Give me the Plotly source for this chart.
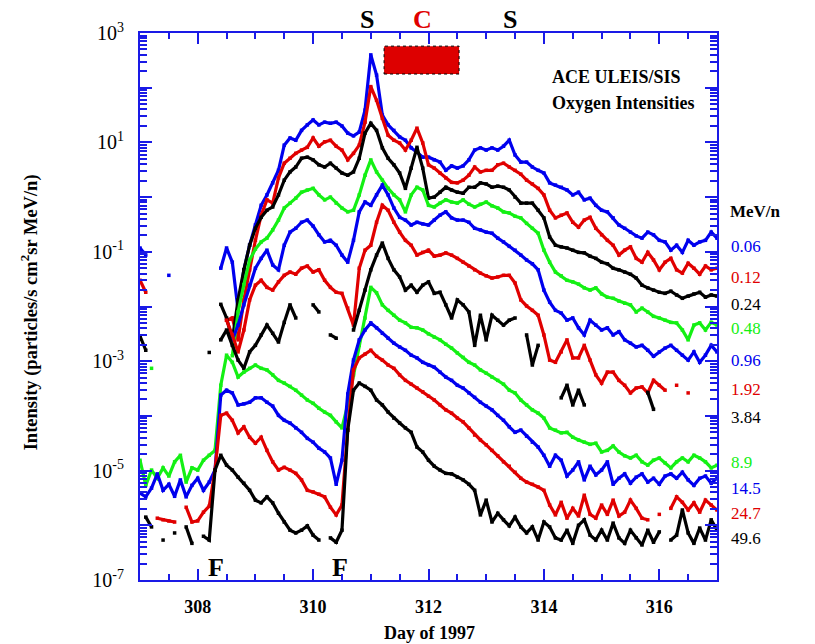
import numpy as np
import plotly.graph_objects as go

N = None
# time grid: day of 1997, every 0.1 day
days = np.round(307.0 + 0.1 * np.arange(101), 1)

# log10 oxygen intensities (particles/s cm2 sr MeV/n)
o_0p06 = [-0.93, -1.06, N, N, N, -1.43, N, N, N, N,
          N, N, N, N, -1.30, -0.93, -1.19, -2.07, -1.33, -0.88,
          -0.51, -0.15, 0.04, 0.26, 0.49, 0.95, 1.08, 1.04, 1.22, 1.32,
          1.41, 1.32, 1.37, 1.35, 1.37, 1.30, 1.17, 1.12, 1.19, 1.59,
          2.60, 2.23, 1.50, 1.32, 1.22, 1.10, 1.04, 0.90, 0.82, 0.73,
          0.73, 0.68, 0.64, 0.49, 0.57, 0.53, 0.57, 0.68, 0.86, 0.90,
          0.86, 0.90, 0.86, 0.93, 1.04, 0.77, 0.64, 0.64, 0.55, 0.49,
          0.44, 0.26, 0.22, 0.18, 0.13, 0.04, 0.09, -0.05, -0.02, -0.15,
          -0.24, -0.27, -0.38, -0.51, -0.57, -0.64, -0.71, -0.75, -0.64, -0.69,
          -0.79, -0.82, -0.97, -0.88, -1.01, -0.79, -0.88, -0.82, -0.79, -0.64,
          -0.75]
o_0p12 = [-1.52, -1.74, N, N, N, N, N, N, N, N,
          N, N, N, N, N, -2.25, -2.21, -2.61, -1.88, -1.33,
          -0.79, -0.33, -0.05, -0.11, 0.35, 0.62, 0.71, 0.80, 0.86, 0.91,
          1.08, 0.93, 1.01, 1.04, 0.93, 0.86, 0.68, 0.80, 0.95, 1.37,
          2.02, 1.77, 1.44, 1.13, 1.04, 0.99, 0.86, 1.04, 1.26, 0.99,
          0.59, 0.53, 0.44, 0.35, 0.27, 0.26, 0.31, 0.40, 0.55, 0.46,
          0.49, 0.49, 0.59, 0.62, 0.55, 0.49, 0.42, 0.31, 0.24, 0.16,
          0.04, -0.24, -0.38, -0.33, -0.29, -0.46, -0.55, -0.42, -0.37, -0.57,
          -0.69, -0.79, -0.88, -1.06, -0.97, -0.91, -1.12, -1.19, -1.01, -1.15,
          -1.33, -1.19, -1.12, -1.33, -1.39, -1.21, -1.30, -1.41, -1.26, -1.33,
          -1.30]
o_0p24 = [-2.54, -2.80, N, N, N, N, N, N, N, N,
          N, N, -2.84, N, -1.96, -2.21, -2.61, -1.88, -1.33, -0.88,
          -0.57, -0.37, -0.24, -0.18, 0.04, 0.31, 0.46, 0.55, 0.71, 0.73,
          0.68, 0.59, 0.55, 0.62, 0.53, 0.44, 0.40, 0.46, 0.71, 1.17,
          1.35, 1.22, 0.90, 0.71, 0.59, 0.44, 0.16, 0.53, 0.91, 0.53,
          -0.02, 0.00, 0.09, 0.18, 0.13, 0.09, 0.07, 0.18, 0.18, 0.26,
          0.24, 0.18, 0.20, 0.18, 0.13, 0.00, -0.11, -0.11, -0.11, -0.24,
          -0.38, -0.73, -0.88, -0.91, -0.93, -0.97, -1.01, -1.02, -1.08, -1.12,
          -1.19, -1.22, -1.30, -1.33, -1.37, -1.41, -1.48, -1.61, -1.66, -1.70,
          -1.74, -1.76, -1.72, -1.79, -1.85, -1.81, -1.77, -1.74, -1.83, -1.79,
          -1.81]
o_0p48 = [N, N, -3.13, N, N, N, N, N, N, N,
          N, N, N, N, N, N, -2.90, -2.10, -1.60, -1.15,
          -0.95, -0.82, -0.75, -0.60, -0.42, -0.20, -0.11, -0.02, 0.09, 0.13,
          0.16, 0.04, -0.05, 0.00, -0.11, -0.20, -0.27, -0.24, 0.04, 0.40,
          0.68, 0.46, 0.31, 0.16, 0.04, -0.05, -0.27, 0.04, 0.18, 0.13,
          -0.15, -0.18, -0.11, -0.05, -0.09, -0.11, -0.05, -0.13, -0.18, -0.13,
          -0.09, -0.16, -0.20, -0.27, -0.29, -0.35, -0.38, -0.48, -0.57, -0.66,
          -0.97, -1.19, -1.37, -1.44, -1.52, -1.55, -1.59, -1.66, -1.70, -1.66,
          -1.77, -1.83, -1.85, -1.90, -1.94, -1.97, -2.10, -2.03, -2.10, -2.18,
          -2.21, -2.25, -2.29, -2.30, -2.43, -2.61, -2.34, -2.30, -2.43, -2.29,
          -2.34]
o_0p96 = [N, N, N, N, N, N, N, N, N, N,
          N, N, N, N, N, N, -2.61, -2.34, -1.97, -1.61,
          -1.30, -1.12, -0.97, -1.24, -1.33, -0.88, -0.64, -0.57, -0.46, -0.42,
          -0.53, -0.69, -0.82, -0.79, -0.88, -1.06, -1.19, -0.79, -0.27, -0.09,
          -0.15, 0.04, 0.22, 0.04, -0.20, -0.37, -0.42, -0.51, -0.46, -0.49,
          -0.51, -0.42, -0.33, -0.27, -0.38, -0.42, -0.42, -0.46, -0.57, -0.60,
          -0.64, -0.66, -0.75, -0.82, -0.90, -0.97, -1.06, -1.15, -1.22, -1.33,
          -1.70, -1.92, -2.07, -2.12, -2.25, -2.21, -2.39, -2.52, -2.25, -2.34,
          -2.43, -2.39, -2.52, -2.46, -2.61, -2.67, -2.74, -2.71, -2.80, -2.91,
          -2.83, -2.76, -2.71, -2.80, -2.89, -2.98, -2.83, -3.02, -2.89, -2.71,
          -2.83]
o_1p92 = [N, N, N, N, N, N, N, N, N, N,
          N, N, N, N, N, -2.25, -2.52, -2.83, -2.43, -1.88,
          -1.61, -1.52, -1.65, -1.70, -1.55, -1.43, -1.37, -1.41, -1.30, -1.26,
          -1.37, -1.33, -1.52, -1.65, -1.74, -1.76, -2.03, -2.34, -1.30, -0.97,
          -0.88, -0.46, -0.15, -0.24, -0.46, -0.64, -0.79, -0.88, -1.06, -1.01,
          -0.97, -1.08, -1.06, -1.02, -1.06, -1.12, -1.19, -1.26, -1.33, -1.39,
          -1.44, -1.48, -1.46, -1.43, -1.43, -1.57, -1.88, -1.99, -2.07, -2.16,
          -2.52, -2.98, -3.02, -2.83, -2.61, -2.94, -2.94, -2.71, -2.98, -3.25,
          -3.40, -3.20, -3.20, -3.35, -3.44, -3.58, -3.49, -3.47, -3.58, -3.35,
          -3.44, -3.53, N, -3.44, N, -3.58, N, N, N, N,
          N]
o_3p84 = [N, N, N, N, N, N, N, N, N, N,
          N, N, N, N, -2.61, -2.43, -2.71, -2.98, -3.13, -2.83,
          -2.71, -2.52, -2.34, -2.49, -2.65, -2.29, -1.97, -2.21, N, N,
          -1.97, -2.10, N, -2.52, -2.58, N, N, -2.43, -2.07, -1.70,
          -1.33, -1.06, -0.84, -1.12, -1.33, -1.46, -1.70, -1.61, -1.74, -1.61,
          -1.55, -1.76, -1.74, -1.97, -2.21, -1.88, -1.97, -2.10, -2.71, -2.16,
          -2.61, -2.16, -2.25, -2.34, -2.25, -2.21, N, -2.52, -3.07, -2.71,
          N, N, N, -3.67, -3.44, -3.80, -3.53, -3.80, N, N,
          N, N, N, N, N, N, N, N, -3.57, -3.88,
          N, N, N, N, N, N, N, N, N, N,
          N]
o_8p9 = [-4.81, -5.27, -4.99, -5.14, -4.95, -5.10, -4.84, -4.72, -5.21, -4.95,
         -4.99, -4.81, -4.72, -4.63, -3.44, -2.89, -3.02, -3.29, -3.20, -3.13,
         -3.07, -3.13, -3.16, -3.25, -3.35, -3.40, -3.46, -3.53, -3.62, -3.71,
         -3.77, -3.86, -3.93, -3.99, -4.11, -4.22, -3.80, -3.25, -2.71, -2.21,
         -1.65, -1.75, -1.97, -2.07, -2.16, -2.25, -2.30, -2.38, -2.39, -2.43,
         -2.50, -2.56, -2.61, -2.69, -2.76, -2.85, -2.93, -3.02, -3.07, -3.16,
         -3.22, -3.29, -3.35, -3.42, -3.53, -3.58, -3.71, -3.80, -3.89, -3.95,
         -4.04, -4.22, -4.26, -4.31, -4.30, -4.39, -4.44, -4.48, -4.52, -4.50,
         -4.66, -4.63, -4.55, -4.66, -4.73, -4.77, -4.72, -4.84, -4.90, -4.81,
         -4.77, -4.86, -4.95, -4.84, -4.77, -4.84, -4.72, -4.77, -4.84, -4.95,
         -4.90]
o_14p5 = [-5.41, -5.48, -5.32, -5.06, -5.36, -5.25, -5.47, -5.17, -5.48, -5.27,
          -5.14, -5.36, -5.21, -4.99, -3.62, -3.53, -3.58, -3.80, -3.78, -3.75,
          -3.67, -3.67, -3.75, -3.82, -3.99, -4.08, -4.13, -4.22, -4.30, -4.41,
          -4.48, -4.59, -4.66, -4.77, -5.25, -4.81, -3.60, -2.98, -2.61, -2.43,
          -2.30, -2.39, -2.49, -2.58, -2.67, -2.74, -2.80, -2.89, -2.94, -3.02,
          -3.07, -3.11, -3.20, -3.29, -3.35, -3.44, -3.49, -3.58, -3.66, -3.75,
          -3.82, -3.89, -3.99, -4.08, -4.20, -4.30, -4.26, -4.37, -4.48, -4.57,
          -4.72, -4.92, -4.72, -4.81, -5.10, -4.99, -4.84, -5.17, -4.92, -5.08,
          -4.99, -4.84, -5.25, -5.14, -5.06, -5.23, -5.12, -5.06, -5.21, -5.14,
          -5.25, -5.10, -5.06, -5.14, -5.03, -5.17, -5.27, -5.14, -5.10, -5.23,
          -5.14]
o_24p7 = [N, N, N, -5.87, -5.90, -5.92, -5.94, N, -5.67, -5.94,
          -5.92, -5.76, -5.65, -4.99, -3.99, -3.95, -4.08, -4.31, -4.20, -4.39,
          -4.50, -4.39, -4.63, -4.84, -4.99, -4.94, -4.99, -5.05, -5.17, -5.36,
          -5.39, -5.43, -5.48, -5.67, -5.81, -5.63, -4.26, -3.16, -2.94, -2.87,
          -2.80, -2.91, -2.98, -3.07, -3.13, -3.25, -3.35, -3.42, -3.49, -3.56,
          -3.64, -3.71, -3.80, -3.89, -3.95, -4.04, -4.11, -4.22, -4.35, -4.44,
          -4.53, -4.63, -4.73, -4.84, -4.92, -5.03, -5.14, -5.21, -5.25, -5.30,
          -5.36, -5.63, -5.81, -5.58, -5.87, -5.69, -5.83, -5.45, -5.80, -5.87,
          -5.63, -5.80, -5.54, -5.83, -5.76, -5.54, -5.69, -5.87, -5.90, N,
          -5.80, N, -5.69, -5.48, -5.58, -5.72, -5.59, -5.76, -5.54, -5.63,
          -5.72]
o_49p6 = [N, -5.85, -6.03, N, -6.27, N, -6.14, N, -6.03, -6.33,
          N, -6.20, -6.27, -4.99, -4.72, -4.90, -4.99, -5.12, -5.23, -5.36,
          -5.54, -5.59, -5.48, -5.59, -5.78, -5.94, -6.09, -6.14, -6.09, -6.01,
          -6.18, -6.27, N, -6.23, -6.31, -6.09, -4.26, -3.53, -3.40, -3.46,
          -3.53, -3.71, -3.80, -3.93, -4.04, -4.13, -4.22, -4.30, -4.57, -4.66,
          -4.81, -4.92, -4.99, -5.05, -5.06, -5.12, -5.17, -5.25, -5.36, -5.81,
          -5.54, -5.94, -5.78, -5.90, -6.01, -5.85, -6.03, -6.14, -6.03, -6.27,
          -5.94, -6.03, -6.23, -6.27, -6.09, -6.33, -6.00, -5.90, -6.18, -6.27,
          -6.09, -6.27, -5.96, -6.23, -6.33, -6.09, -6.23, -6.36, -6.09, -6.31,
          -6.12, N, -6.27, -6.18, -5.72, -6.14, -6.33, -6.05, -6.27, -5.90,
          -6.09]

channels = ["0.06", "0.12", "0.24", "0.48", "0.96", "1.92",
            "3.84", "8.9", "14.5", "24.7", "49.6"]
series = [o_0p06, o_0p12, o_0p24, o_0p48, o_0p96, o_1p92,
          o_3p84, o_8p9, o_14p5, o_24p7, o_49p6]

BLUE, RED, BLACK, GREEN = "#0000ee", "#e00000", "#000000", "#14f014"
colors = [BLUE, RED, BLACK, GREEN, BLUE, RED, BLACK, GREEN, BLUE, RED, BLACK]
AX = "#1a1ae6"
SERIF = "Liberation Serif, Times New Roman, serif"

fig = go.Figure()
for name, vals, col in zip(channels, series, colors):
    y = [None if v is None else 10 ** v for v in vals]
    fig.add_trace(go.Scatter(
        x=days, y=y, name=name + " MeV/n", mode="lines+markers",
        line=dict(color=col, width=3.2, shape="linear"),
        marker=dict(color=col, size=3.5, symbol="square"),
        connectgaps=False, showlegend=False))

# axes
x_major = [308, 310, 312, 314, 316]
x_minor = sorted(set([307.5 + 0.5 * k for k in range(19)]) - set(x_major))
fig.update_xaxes(
    range=[307, 317], tickmode="array", tickvals=x_major,
    ticktext=["<b>%d</b>" % v for v in x_major],
    tickfont=dict(family=SERIF, size=18, color="black"),
    ticks="inside", ticklen=11, tickwidth=2, tickcolor=AX,
    showline=True, linecolor=AX, linewidth=2, mirror="ticks",
    showgrid=False, zeroline=False, ticklabelstandoff=9,
    minor=dict(tickvals=x_minor, ticks="inside", ticklen=6,
               tickwidth=2, tickcolor=AX, showgrid=False))

# labelled decades (odd exponents) as major ticks; even decades as long ticks on an overlay axis
lab_exps = [-7, -5, -3, -1, 1, 3]
y_major = [10.0 ** e for e in lab_exps]
y_text = ["10<sup>%d</sup>" % e for e in lab_exps]
y_minor = [k * 10.0 ** e for e in range(-7, 3) for k in range(2, 10)]
fig.update_yaxes(
    type="log", range=[-7, 3], tickmode="array", tickvals=y_major, ticktext=y_text,
    tickfont=dict(family=SERIF, size=20, color="black"),
    ticks="inside", ticklen=12, tickwidth=2, tickcolor=AX,
    showline=True, linecolor=AX, linewidth=2, mirror="ticks",
    showgrid=False, zeroline=False, ticklabelstandoff=10,
    minor=dict(tickvals=y_minor, ticks="inside", ticklen=7,
               tickwidth=1.5, tickcolor=AX, showgrid=False))
fig.update_layout(yaxis2=dict(
    type="log", range=[-7, 3], overlaying="y", side="left", matches=None,
    tickmode="array", tickvals=[10.0 ** e for e in [-6, -4, -2, 0, 2]],
    showticklabels=False, ticks="inside", ticklen=12, tickwidth=2, tickcolor=AX,
    showline=True, linecolor=AX, linewidth=2, mirror="ticks",
    showgrid=False, zeroline=False))
# invisible anchor trace so the overlay axis is drawn
fig.add_trace(go.Scatter(x=[307, 317], y=[1e-7, 1e3], yaxis="y2", mode="markers",
                         marker=dict(opacity=0), hoverinfo="skip", showlegend=False))

ann = []
# axis titles
ann.append(dict(text="<b>Intensity (particles/s cm<sup>2</sup>sr MeV/n)</b>",
                xref="paper", yref="paper", x=-0.19, y=0.49, textangle=-90,
                showarrow=False, font=dict(family=SERIF, size=18.5, color="black"),
                xanchor="center", yanchor="middle"))
ann.append(dict(text="<b>Day of 1997</b>", xref="paper", yref="paper",
                x=0.502, y=-0.097, showarrow=False,
                font=dict(family=SERIF, size=18, color="black"),
                xanchor="center", yanchor="middle"))
# event markers
for txt, xd, col in [("S", 310.93, "black"), ("C", 311.90, RED), ("S", 313.41, "black")]:
    ann.append(dict(text="<b>%s</b>" % txt, xref="x", yref="paper", x=xd, y=1.024,
                    showarrow=False, font=dict(family=SERIF, size=26, color=col),
                    xanchor="center", yanchor="middle"))
for xd in [308.32, 310.47]:
    ann.append(dict(text="<b>F</b>", xref="x", yref="paper", x=xd, y=0.022,
                    showarrow=False, font=dict(family=SERIF, size=26, color="black"),
                    xanchor="center", yanchor="middle"))
# title block
ann.append(dict(text="<b>ACE ULEIS/SIS</b>", xref="paper", yref="paper",
                x=(550 - 140) / 577, y=(580 - 77) / 547, showarrow=False,
                font=dict(family=SERIF, size=18, color="black"),
                xanchor="left", yanchor="middle"))
ann.append(dict(text="<b>Oxygen Intensities</b>", xref="paper", yref="paper",
                x=(550 - 140) / 577, y=(580 - 103) / 547, showarrow=False,
                font=dict(family=SERIF, size=18, color="black"),
                xanchor="left", yanchor="middle"))
# energy labels
ann.append(dict(text="<b>MeV/n</b>", xref="paper", yref="paper",
                x=(728 - 140) / 577, y=(580 - 211) / 547, showarrow=False,
                font=dict(family=SERIF, size=17, color="black"),
                xanchor="left", yanchor="middle"))
label_py = [246, 277, 304, 329, 360, 390, 418, 462, 488, 513, 538]
for name, col, py in zip(channels, colors, label_py):
    ann.append(dict(text=name, xref="paper", yref="paper",
                    x=(729 - 140) / 577, y=(580 - py) / 547, showarrow=False,
                    font=dict(family=SERIF, size=17, color=col),
                    xanchor="left", yanchor="middle"))

fig.update_layout(
    width=815, height=644,
    margin=dict(l=140, r=98, t=33, b=64),
    paper_bgcolor="white", plot_bgcolor="white",
    showlegend=False,
    font=dict(family=SERIF, color="black"),
    annotations=ann,
    shapes=[dict(type="rect", xref="x", yref="paper",
                 x0=311.23, x1=312.53, y0=0.925, y1=0.976,
                 fillcolor="#dd0000", line=dict(color="black", width=1, dash="dot"),
                 layer="above")],
)

fig.write_html("out.html")
